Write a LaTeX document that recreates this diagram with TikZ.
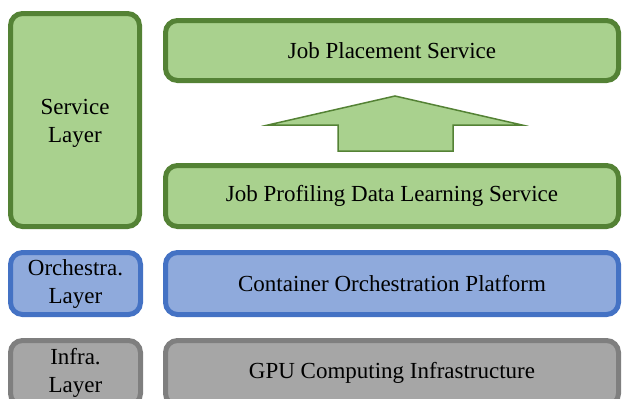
\documentclass[tikz,border=0pt]{standalone}
\usepackage{fontspec}
\setmainfont{Liberation Serif}
\usepackage{tikz}
\definecolor{svcfill}{RGB}{169,209,142}
\definecolor{svcline}{RGB}{84,130,53}
\definecolor{orcfill}{RGB}{143,170,220}
\definecolor{orcline}{RGB}{68,114,196}
\definecolor{infill}{RGB}{166,166,166}
\definecolor{inline}{RGB}{127,127,127}

\begin{document}
\begin{tikzpicture}[
    x=1pt, y=-1pt,
    layerbox/.style={rounded corners=12pt, line width=5pt, align=center,
        inner sep=0pt, font=\fontsize{23}{28}\selectfont},
    service/.style={layerbox, fill=svcfill, draw=svcline},
    orchestra/.style={layerbox, fill=orcfill, draw=orcline},
    infra/.style={layerbox, fill=infill, draw=inline},
]
    \useasboundingbox (0, 0) rectangle (622, 399);
    \clip (0, 0) rectangle (622, 399);

    %% the layer names on the left
    \node[service, minimum width=129, minimum height=213] (svclayer)
        at (75, 120) {\\[-6pt]Service\\Layer};
    \node[orchestra, minimum width=130, minimum height=62] (orclayer)
        at (75.5, 283.5) {Orchestra.\\Layer};
    \node[infra, minimum width=130, minimum height=65] (inflayer)
        at (75.5, 373) {Infra.\\Layer};

    %% the parts of each layer on the right
    \node[service, minimum width=453, minimum height=60] (placement)
        at (392, 50.5) {Job Placement Service};
    \node[service, minimum width=453, minimum height=61] (profiling)
        at (392, 196) {Job Profiling Data Learning Service};
    \node[orchestra, minimum width=453, minimum height=62] (platform)
        at (392, 283.5) {Container Orchestration Platform};
    \node[infra, minimum width=453, minimum height=65] (gpu)
        at (392, 373) {GPU Computing Infrastructure};

    %% the block arrow from profiling up to placement
    \filldraw[fill=svcfill, draw=svcline, line width=1.5pt, line join=miter]
        (395, 96) -- (522, 125) -- (453, 125) -- (453, 151)
        -- (338, 151) -- (338, 125) -- (268, 125) -- cycle;
\end{tikzpicture}
\end{document}
